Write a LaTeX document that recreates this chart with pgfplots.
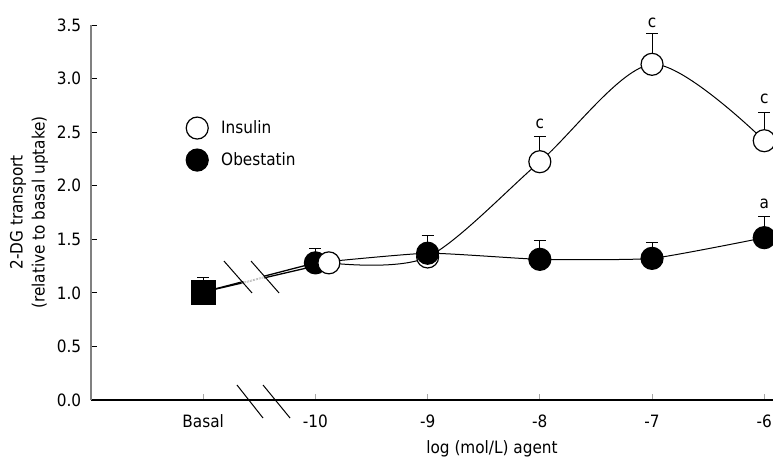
\documentclass[border=0pt]{standalone}
\usepackage{pgfplots}
\pgfplotsset{compat=1.18}
\usepackage{fontspec}
\setmainfont{DejaVu Sans Condensed}
\newcommand{\fs}{\fontsize{17}{22}\selectfont}
\begin{document}
\fs
\begin{tikzpicture}
\begin{axis}[
  at={(0pt,0pt)}, anchor=south west,
  scale only axis, width=682pt, height=375pt,
  xmin=-12, xmax=-5.922, ymin=0, ymax=3.5,
  clip=false,
  axis lines=left, axis line style={-},
  x axis line style={black, line width=1.2pt},
  y axis line style={gray, line width=2pt},
  tick align=inside,
  major tick length=6pt,
  xtick={-11,-10,-9,-8,-7,-6},
  xticklabels={Basal,-10,-9,-8,-7,-6},
  ytick={0,0.5,1,1.5,2,2.5,3,3.5},
  x tick style={gray!70, line width=0.8pt},
  y tick style={black, line width=0.8pt},
  /pgf/number format/fixed, /pgf/number format/fixed zerofill, /pgf/number format/precision=1,
  /pgf/number format/assume math mode=true,
  tick label style={font=\fs},
  xticklabel style={yshift=-9pt},
  yticklabel style={xshift=-4pt},
  xlabel={log (mol/L) agent},
  xlabel style={at={(axis description cs:0.588,-0.1307)}, anchor=center, font=\fs},
  ylabel={2-DG transport\\(relative to basal uptake)},
  ylabel style={at={(axis description cs:-0.0909,0.5)}, anchor=center, align=center, font=\fs},
  legend style={draw=none, fill=none, at={(axis cs:-11.064,2.54)}, anchor=north west, font=\fs,
    row sep=10pt, xshift=-13pt, yshift=13pt,
    /tikz/every odd column/.append style={column sep=11pt}},
  legend cell align=left,
  legend image code/.code={\draw[#1] plot coordinates {(0pt,0pt)};},
  error bars/error bar style={black, line width=0.9pt},
  error bars/error mark options={rotate=90, mark size=6pt, line width=0.9pt, black},
]
% connecting lines
\addplot[black, line width=1.3pt, forget plot] coordinates {(-11,1.008) (-10,1.28)};
\addplot[black, line width=1.3pt, forget plot] coordinates {(-11,1.008) (-9.88,1.28)};
\draw[white, line width=5pt] (axis cs:-10.64,1.10) -- (axis cs:-10.46,1.151);
\draw[gray!60, line width=0.6pt, dash pattern=on 2pt off 1pt] (axis cs:-10.66,1.094) -- (axis cs:-10.44,1.156);
\draw[gray!60, line width=0.6pt, dash pattern=on 2pt off 1pt] (axis cs:-10.66,1.084) -- (axis cs:-10.44,1.146);
\addplot[black, line width=1pt, smooth, tension=0.5, forget plot] coordinates {(-9.88,1.28) (-9,1.335) (-8,2.224) (-7,3.133) (-6,2.42)};
\addplot[black, line width=1pt, smooth, tension=0.3, forget plot] coordinates {(-10,1.28) (-9,1.37) (-8,1.313) (-7,1.322) (-6,1.515)};
% basal
\addplot[only marks, mark=square*, mark size=12pt, mark options={fill=black, draw=black}, forget plot,
  error bars/.cd, y dir=plus, y explicit] coordinates {(-11,1.008) +- (0,0.137)};
% insulin
\addplot[only marks, mark=*, mark size=11pt, mark options={fill=white, draw=black, line width=1.2pt},
  error bars/.cd, y dir=plus, y explicit] coordinates {
  (-9,1.335) +- (0,0) (-8,2.224) +- (0,0.24) (-7,3.133) +- (0,0.287) (-6,2.42) +- (0,0.26)};
\addlegendentry{Insulin}
% obestatin
\addplot[only marks, mark=*, mark size=11pt, mark options={fill=black, draw=black, line width=1.2pt},
  error bars/.cd, y dir=plus, y explicit] coordinates {
  (-10,1.28) +- (0,0.13) (-9,1.37) +- (0,0.17) (-8,1.313) +- (0,0.18) (-7,1.322) +- (0,0.15) (-6,1.515) +- (0,0.196)};
\addlegendentry{Obestatin}
\addplot[only marks, mark=*, mark size=11pt, mark options={fill=white, draw=black, line width=1.2pt}, forget plot]
  coordinates {(-9.88,1.28)};
% axis breaks
\draw[black, line width=1pt] (axis cs:-10.815,1.297) -- (axis cs:-10.565,0.999);
\draw[black, line width=1pt] (axis cs:-10.574,1.297) -- (axis cs:-10.324,0.999);
\draw[black, line width=1pt] (axis cs:-10.699,0.14) -- (axis cs:-10.467,-0.168);
\draw[black, line width=1pt] (axis cs:-10.467,0.14) -- (axis cs:-10.226,-0.168);
% significance letters
\node[font=\fs] at (axis cs:-8,2.576) {c};
\node[font=\fs] at (axis cs:-7,3.52) {c};
\node[font=\fs] at (axis cs:-6,2.81) {c};
\node[font=\fs] at (axis cs:-6,1.83) {a};
\end{axis}
\pgfresetboundingbox
\path[use as bounding box] (-91pt,-61pt) rectangle (682pt,400pt);
\end{tikzpicture}
\end{document}
